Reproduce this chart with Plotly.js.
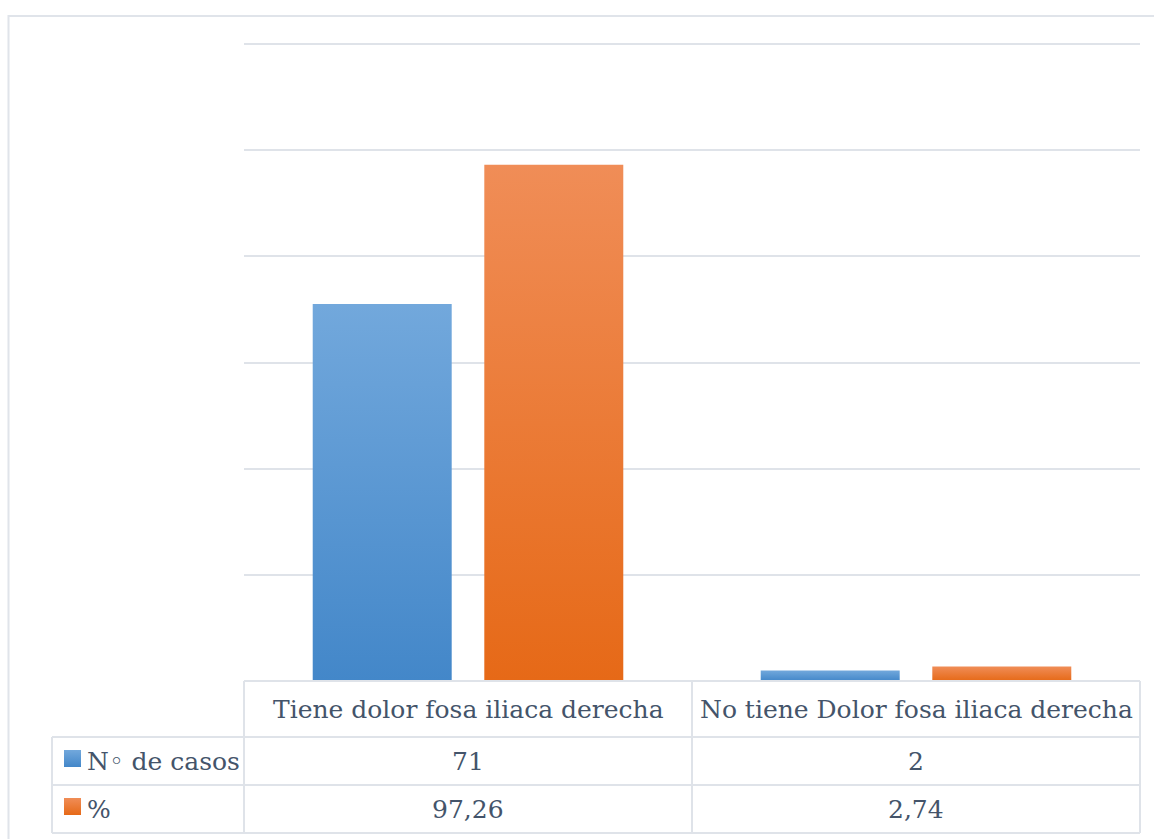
<!DOCTYPE html>
<html>
<head>
<meta charset="utf-8">
<script src="https://cdn.plot.ly/plotly-3.0.1.min.js"></script>
<style>
  html, body { margin: 0; padding: 0; background: #ffffff; }
  #chart { width: 1154px; height: 839px; }
</style>
</head>
<body>
<div id="chart"></div>
<script>
// ---- Data ----
const categories = ['Tiene dolor fosa iliaca derecha', 'No tiene Dolor fosa iliaca derecha'];
const seriesNames = ['N\u25E6 de casos', '%'];
const casos = [71, 2];
const porcentaje = [97.26, 2.74];
const yTicks = [0, 20, 40, 60, 80, 100, 120];

// ---- Styling / geometry ----
const W = 1154, H = 839;
const M = {l: 244, r: 14, t: 44, b: 158};
const PW = W - M.l - M.r, PH = H - M.t - M.b;
const fx = px => (px - M.l) / PW;
const fy = py => (H - M.b - py) / PH;

const textColor = '#44546A';
const lineColor = '#DFE3E9';
const fontFam = 'DejaVu Serif';
const fs = 25;

const fmt = v => Number.isInteger(v) ? String(v) : v.toFixed(2).replace('.', ',');

const traces = [
  {type: 'bar', name: seriesNames[0], x: categories, y: casos, marker: {color: '#5B9BD5', line: {width: 0}}, hoverinfo: 'none'},
  {type: 'bar', name: seriesNames[1], x: categories, y: porcentaje, marker: {color: '#ED7D31', line: {width: 0}}, hoverinfo: 'none'}
];

// Table lines
const colX = [52, 244, 692, 1140];
const rowY = [681, 737, 785, 833];
const shapes = [];
shapes.push({type: 'rect', xref: 'paper', yref: 'paper', x0: fx(8.5), x1: fx(1170), y0: fy(16), y1: fy(860), line: {color: '#E0E4EA', width: 2}, fillcolor: 'rgba(0,0,0,0)', layer: 'below'});
shapes.push({type: 'line', xref: 'paper', yref: 'paper', x0: 0, x1: 1, y0: 1, y1: 1, line: {color: lineColor, width: 2}, layer: 'below'});
shapes.push({type: 'line', xref: 'paper', yref: 'paper', x0: fx(colX[1]), x1: fx(colX[3]), y0: fy(rowY[0]), y1: fy(rowY[0]), line: {color: lineColor, width: 2}});
for (let r = 1; r < rowY.length; r++) {
  shapes.push({type: 'line', xref: 'paper', yref: 'paper', x0: fx(colX[0]), x1: fx(colX[3]), y0: fy(rowY[r]), y1: fy(rowY[r]), line: {color: lineColor, width: 2}});
}
shapes.push({type: 'line', xref: 'paper', yref: 'paper', x0: fx(colX[0]), x1: fx(colX[0]), y0: fy(rowY[1]), y1: fy(rowY[3]), line: {color: lineColor, width: 2}});
for (let c = 1; c < colX.length; c++) {
  shapes.push({type: 'line', xref: 'paper', yref: 'paper', x0: fx(colX[c]), x1: fx(colX[c]), y0: fy(rowY[0]), y1: fy(rowY[3]), line: {color: lineColor, width: 2}});
}
const keyIdx = [];
const keyColors = ['#5B9BD5', '#ED7D31'];
for (let s = 0; s < 2; s++) {
  const top = rowY[s + 1] + 13;
  keyIdx.push(shapes.length);
  shapes.push({type: 'rect', xref: 'paper', yref: 'paper', x0: fx(64), x1: fx(81), y0: fy(top), y1: fy(top + 17), line: {width: 0}, fillcolor: keyColors[s]});
}

// Annotations
const annotations = [];
const colCenters = [ (colX[1] + colX[2]) / 2, (colX[2] + colX[3]) / 2 ];
const rowCenters = [ (rowY[0] + rowY[1]) / 2, (rowY[1] + rowY[2]) / 2, (rowY[2] + rowY[3]) / 2 ];
const ann = (text, x, y, anchor) => ({text, xref: 'paper', yref: 'paper', x: fx(x), y: fy(y), xanchor: anchor || 'center', yanchor: 'middle', showarrow: false, font: {family: fontFam, size: fs, color: textColor}});
categories.forEach((c, i) => annotations.push(ann(c, colCenters[i], rowCenters[0])));
seriesNames.forEach((n, s) => annotations.push(ann(n, 85, rowCenters[s + 1], 'left')));
casos.forEach((v, i) => annotations.push(ann(fmt(v), colCenters[i], rowCenters[1])));
porcentaje.forEach((v, i) => annotations.push(ann(fmt(v), colCenters[i], rowCenters[2])));

const layout = {
  width: W, height: H,
  margin: M,
  paper_bgcolor: '#ffffff', plot_bgcolor: '#ffffff',
  showlegend: false,
  font: {family: fontFam, color: textColor},
  barmode: 'group', bargap: 0.234, bargroupgap: 0.19,
  xaxis: {showticklabels: false, showgrid: false, zeroline: false, showline: false, ticks: ''},
  yaxis: {range: [0, 120], tickvals: yTicks, showticklabels: false, showgrid: true, gridcolor: lineColor, gridwidth: 2, zeroline: true, zerolinecolor: lineColor, zerolinewidth: 2, showline: false, ticks: ''},
  shapes, annotations
};

const gd = document.getElementById('chart');
Plotly.newPlot(gd, traces, layout, {staticPlot: true, displayModeBar: false}).then(() => {
  const svg = gd.querySelector('.main-svg');
  const NS = 'http://www.w3.org/2000/svg';
  let defs = svg.querySelector('defs');
  if (!defs) { defs = document.createElementNS(NS, 'defs'); svg.insertBefore(defs, svg.firstChild); }
  const grads = [['gBlue', '#72A8DC', '#4387C9'], ['gOrange', '#F08D57', '#E66917']];
  grads.forEach(([id, c0, c1]) => {
    const lg = document.createElementNS(NS, 'linearGradient');
    lg.setAttribute('id', id);
    lg.setAttribute('x1', '0'); lg.setAttribute('y1', '0'); lg.setAttribute('x2', '0'); lg.setAttribute('y2', '1');
    [[0, c0], [1, c1]].forEach(([o, c]) => {
      const st = document.createElementNS(NS, 'stop');
      st.setAttribute('offset', o); st.setAttribute('stop-color', c);
      lg.appendChild(st);
    });
    defs.appendChild(lg);
  });
  gd.querySelectorAll('.barlayer .trace').forEach((t, i) => {
    t.querySelectorAll('path').forEach(p => { p.style.fill = 'url(#' + grads[i][0] + ')'; });
  });
  keyIdx.forEach((idx, s) => {
    gd.querySelectorAll('.shapelayer path[data-index="' + idx + '"]').forEach(p => { p.style.fill = 'url(#' + grads[s][0] + ')'; });
  });
});
</script>
</body>
</html>
